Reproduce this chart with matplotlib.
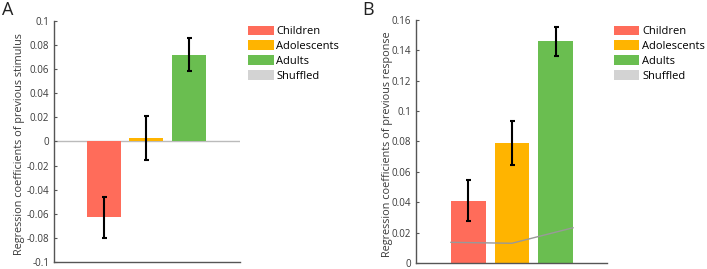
import matplotlib
matplotlib.use("Agg")
import matplotlib.pyplot as plt
from matplotlib.patches import Patch

plt.rcParams['font.family'] = ['Open Sans', 'DejaVu Sans']

groups = ["Children", "Adolescents", "Adults"]
legend_labels = ["Children", "Adolescents", "Adults", "Shuffled"]
colors = ["#FF6C5A", "#FFB400", "#6ABE50"]
shuffled_color = "#D3D3D3"

stim_vals = [-0.063, 0.003, 0.072]
stim_err = [0.017, 0.018, 0.0135]

resp_vals = [0.041, 0.079, 0.146]
resp_err = [0.0135, 0.0145, 0.0095]

shuffled_x = [0.6, 2.0, 3.4]
shuffled_resp = [0.0136, 0.0130, 0.0232]

stim_ticks = [-0.1, -0.08, -0.06, -0.04, -0.02, 0, 0.02, 0.04, 0.06, 0.08, 0.1]
stim_ticklabels = ["-0.1", "-0.08", "-0.06", "-0.04", "-0.02", "0", "0.02", "0.04", "0.06", "0.08", "0.1"]
resp_ticks = [0, 0.02, 0.04, 0.06, 0.08, 0.1, 0.12, 0.14, 0.16]
resp_ticklabels = ["0", "0.02", "0.04", "0.06", "0.08", "0.1", "0.12", "0.14", "0.16"]

fig = plt.figure(figsize=(7.07, 2.69), dpi=100)
axA = fig.add_axes([0.0764, 0.026, 0.2631, 0.896])
axB = fig.add_axes([0.5884, 0.0223, 0.2702, 0.9034])

x = [1, 2, 3]
spine_c = "#555555"
text_c = "#3a3a3a"
fs = 7


def style(ax, ticks, labels, ylim, xlim, ylabel, label_x):
    ax.set_ylim(*ylim)
    ax.set_xlim(*xlim)
    ax.set_yticks(ticks)
    ax.set_yticklabels(labels)
    ax.set_xticks([])
    for s in ["top", "right"]:
        ax.spines[s].set_visible(False)
    for s in ["left", "bottom"]:
        ax.spines[s].set_color(spine_c)
        ax.spines[s].set_linewidth(1.0)
    ax.tick_params(axis='y', direction='in', length=2.5, width=0.8, colors=spine_c,
                   labelcolor=text_c, labelsize=fs, pad=3.5)
    ax.set_ylabel(ylabel, fontsize=7.8, color=text_c)
    ax.yaxis.set_label_coords(label_x, 0.49)


def legend(ax, anchor):
    handles = [Patch(facecolor=c, edgecolor='none') for c in colors] + \
              [Patch(facecolor=shuffled_color, edgecolor='none')]
    ax.legend(handles, legend_labels, loc='upper left', bbox_to_anchor=anchor,
              bbox_transform=fig.transFigure, frameon=False, fontsize=8,
              handlelength=2.3, handleheight=0.95, labelspacing=0.3,
              handletextpad=0.25, borderaxespad=0, borderpad=0)


# Panel A
axA.axhline(0, color="#BBBBBB", lw=1.0, zorder=1)
axA.bar(x, stim_vals, width=0.79, color=colors, edgecolor='none', zorder=2)
axA.errorbar(x, stim_vals, yerr=stim_err, fmt='none', ecolor='black',
             elinewidth=1.5, capsize=1.8, capthick=1.5, zorder=3)
style(axA, stim_ticks, stim_ticklabels, (-0.1, 0.1), (-0.16, 4.19),
      "Regression coefficients of previous stimulus", -0.156)
legend(axA, (0.351, 0.905))

# Panel B
axB.bar(x, resp_vals, width=0.79, color=colors, edgecolor='none', zorder=2)
axB.plot(shuffled_x, shuffled_resp, color="#999999", lw=1.0, zorder=2.5)
axB.errorbar(x, resp_vals, yerr=resp_err, fmt='none', ecolor='black',
             elinewidth=1.5, capsize=1.8, capthick=1.5, zorder=3)
style(axB, resp_ticks, resp_ticklabels, (0, 0.16), (-0.2, 4.18),
      "Regression coefficients of previous response", -0.12)
legend(axB, (0.868, 0.905))

fig.text(0.003, 0.995, "A", fontsize=13, va='top', ha='left', color='#222222')
fig.text(0.512, 0.995, "B", fontsize=13, va='top', ha='left', color='#222222')

fig.savefig("out.png", dpi=100)
